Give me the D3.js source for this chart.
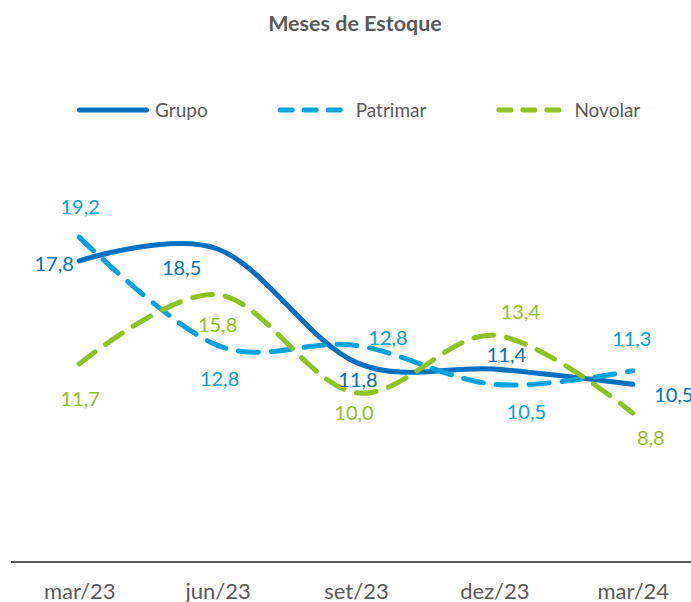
<!DOCTYPE html>
<html>
<head>
<meta charset="utf-8">
<script src="https://cdn.jsdelivr.net/npm/d3@7"></script>
<style>
  body { margin: 0; background: #fff; }
  text { font-family: Lato, "Open Sans", sans-serif; }
</style>
</head>
<body>
<div id="chart-Div"></div>
<script>

// data
let categories = ['mar/23', 'jun/23', 'set/23', 'dez/23', 'mar/24'];
let grupo    = [17.8, 18.5, 11.8, 11.4, 10.5];
let patrimar = [19.2, 12.8, 12.8, 10.5, 11.3];
let novolar  = [11.7, 15.8, 10.0, 13.4, 8.8];

// where each data label sits relative to its point
let grupoLabelOffsets    = [[-25, 3], [-36, 19], [2, 17], [12, -14], [41, 10]];
let patrimarLabelOffsets = [[1, -30], [2, 33], [32, -8], [32, 27], [-1, -32]];
let novolarLabelOffsets  = [[1, 35], [0, 30], [-2, 20], [26, -23], [18, 25]];

let width = 691, height = 602;

let series = [
    {name: 'Grupo', values: grupo, offsets: grupoLabelOffsets, color: '#0070C0', dash: null},
    {name: 'Patrimar', values: patrimar, offsets: patrimarLabelOffsets, color: '#00A3E0', dash: '20,13'},
    {name: 'Novolar', values: novolar, offsets: novolarLabelOffsets, color: '#8DC21F', dash: '20,13'}
];

let svg = d3.select('#chart-Div')
    .append('svg')
    .attr('width', width)
    .attr('height', height);

// Set up the scales
let xScale = d3.scalePoint()
    .domain(categories)
    .range([10, 702])
    .padding(0.5);
let yScale = d3.scaleLinear()
    .domain([0, 25])
    .range([562, 139]);

// title
svg.append('text')
    .attr('x', 355)
    .attr('y', 31)
    .attr('text-anchor', 'middle')
    .attr('font-size', 21.5)
    .attr('font-weight', 'bold')
    .attr('fill', '#595959')
    .text('Meses de Estoque');

// x axis: just the baseline and the labels
let xAxis = d3.axisBottom(xScale).tickSize(0).tickPadding(21);
let axisG = svg.append('g')
    .attr('transform', `translate(0, ${yScale(0)})`)
    .call(xAxis);
axisG.select('.domain')
    .attr('d', `M11,0H${width}`)
    .attr('stroke', '#595959')
    .attr('stroke-width', 2);
axisG.selectAll('.tick text')
    .attr('font-family', 'Lato, "Open Sans", sans-serif')
    .attr('font-size', 22)
    .attr('fill', '#595959');

// smooth lines like Excel
let lineGen = d3.line()
    .x((d, i) => xScale(categories[i]))
    .y((d) => yScale(d))
    .curve(d3.curveCardinal.tension(0));

series.forEach(function (s) {
    svg.append('path')
        .attr('d', lineGen(s.values))
        .attr('fill', 'none')
        .attr('stroke', s.color)
        .attr('stroke-width', 5)
        .attr('stroke-linecap', 'round')
        .attr('stroke-dasharray', s.dash);
});

// data labels
series.forEach(function (s) {
    svg.append('g')
        .selectAll('text')
        .data(s.values)
        .join('text')
        .attr('x', (d, i) => xScale(categories[i]) + s.offsets[i][0])
        .attr('y', (d, i) => yScale(d) + s.offsets[i][1])
        .attr('dy', '0.36em')
        .attr('text-anchor', 'middle')
        .attr('font-size', 20)
        .attr('fill', s.color)
        .text((d) => d3.format('.1f')(d).replace('.', ','));
});

// legend
let legend = svg.append('g').attr('transform', 'translate(0, 110)');
let lx = 77;
series.forEach(function (s) {
    legend.append('line')
        .attr('x1', lx + 2.5)
        .attr('x2', lx + 69.5)
        .attr('stroke', s.color)
        .attr('stroke-width', 5)
        .attr('stroke-linecap', 'round')
        .attr('stroke-dasharray', s.dash ? '12,12' : null);
    let t = legend.append('text')
        .attr('x', lx + 78)
        .attr('dy', '0.36em')
        .attr('font-size', 19)
        .attr('fill', '#595959')
        .text(s.name);
    lx = lx + 78 + t.node().getComputedTextLength() + 70;
});

</script>
</body>
</html>
